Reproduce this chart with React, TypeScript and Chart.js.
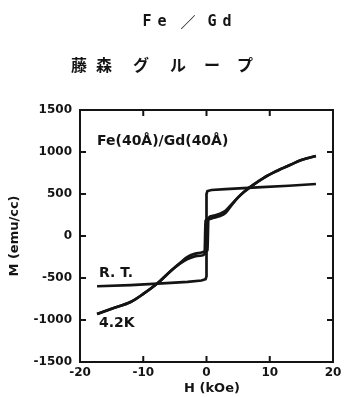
import { useEffect, useRef } from "react";
import { Chart, registerables } from "chart.js";

Chart.register(...registerables);

// Room temperature loop (square loop, near-zero coercivity)
const rtH = [-17.3, -12, -7, -3, -0.8, -0.15, 0, 0, 0.15, 0.8, 3, 8, 13, 17.3];
const rtM = [-598, -585, -565, -545, -530, -515, -480, 500, 535, 548, 558, 578, 598, 619];

// 4.2 K, ascending branch
const k42UpH = [-17.3, -15, -12, -10, -7.7, -6, -4.2, -3, -2, -1, -0.4, 0.15, 0.3, 1, 2, 3, 4, 5, 6, 7.5, 9, 11, 13.2, 15, 17.3];
const k42UpM = [-929, -865, -786, -690, -560, -440, -321, -250, -215, -200, -190, -170, 215, 240, 262, 300, 380, 460, 530, 615, 690, 770, 845, 905, 952];

// 4.2 K, descending branch
const k42DownH = [17.3, 15, 13.2, 11, 9, 7.5, 6, 5, 4, 3, 2, 1, 0.4, -0.15, -0.3, -1, -2, -3, -4.2, -6, -7.7, -10, -12, -15, -17.3];
const k42DownM = [952, 905, 845, 770, 690, 615, 530, 460, 370, 275, 235, 215, 200, 180, -215, -235, -245, -275, -330, -440, -560, -690, -786, -865, -929];

const xInnerTicks = [-10, 0, 10];
const yInnerTicks = [-1000, -500, 0, 500, 1000];

const INK = "#141414";
const TICK_FONT = "DejaVu Sans";

export default function App() {
  const ref = useRef<HTMLCanvasElement>(null);

  useEffect(() => {
    const canvas = ref.current;
    if (!canvas) return;
    const toPts = (h: number[], m: number[]) => h.map((x, i) => ({ x, y: m[i] }));

    const decor = {
      id: "decor",
      afterDraw(chart: any) {
        const { ctx, chartArea: a, scales } = chart;
        const xs = scales.x;
        const ys = scales.y;
        ctx.save();
        ctx.strokeStyle = INK;
        ctx.lineWidth = 2;
        ctx.strokeRect(a.left, a.top, a.right - a.left, a.bottom - a.top);
        const L = 6;
        ctx.beginPath();
        for (const v of xInnerTicks) {
          const px = xs.getPixelForValue(v);
          ctx.moveTo(px, a.bottom);
          ctx.lineTo(px, a.bottom - L);
          ctx.moveTo(px, a.top);
          ctx.lineTo(px, a.top + L);
        }
        for (const v of yInnerTicks) {
          const py = ys.getPixelForValue(v);
          ctx.moveTo(a.left, py);
          ctx.lineTo(a.left + L, py);
          ctx.moveTo(a.right, py);
          ctx.lineTo(a.right - L, py);
        }
        ctx.stroke();

        ctx.fillStyle = INK;
        ctx.textBaseline = "middle";
        ctx.textAlign = "center";

        // Page title "Fe／Gd" (spaced typewriter letters)
        const t1: [string, number][] = [["F", 147], ["e", 162], ["／", 188], ["G", 212], ["d", 227]];
        for (const [c, x] of t1) {
          ctx.font = c === "／" ? "bold 15px 'Noto Sans CJK JP'" : "bold 15px 'DejaVu Sans Mono'";
          ctx.fillText(c, x, 22);
        }
        // Group name
        const t2: [string, number][] = [["藤", 79], ["森", 104], ["グ", 141], ["ル", 178], ["ー", 212], ["プ", 245]];
        ctx.font = "bold 16px 'Noto Sans CJK JP'";
        for (const [c, x] of t2) ctx.fillText(c, x, 65);

        // In-plot annotations
        ctx.textAlign = "left";
        ctx.font = "bold 14px 'DejaVu Sans'";
        ctx.fillText("Fe(40Å)/Gd(40Å)", 97, 141);
        ctx.fillText("R. T.", 99, 273);
        ctx.fillText("4.2K", 99, 323);

        // Axis titles
        ctx.textAlign = "center";
        ctx.font = "bold 13px 'DejaVu Sans'";
        ctx.fillText("H (kOe)", 212, 389);
        ctx.save();
        ctx.translate(15, 236);
        ctx.rotate(-Math.PI / 2);
        ctx.fillText("M (emu/cc)", 0, 0);
        ctx.restore();

        ctx.restore();
      },
    };

    const lineStyle = {
      borderColor: INK,
      borderWidth: 2.7,
      pointRadius: 0,
      showLine: true,
      fill: false,
    };

    const chart = new Chart(canvas, {
      type: "scatter",
      data: {
        datasets: [
          { label: "R.T.", data: toPts(rtH, rtM), tension: 0, ...lineStyle },
          { label: "4.2K up", data: toPts(k42UpH, k42UpM), cubicInterpolationMode: "monotone", ...lineStyle },
          { label: "4.2K down", data: toPts(k42DownH, k42DownM), cubicInterpolationMode: "monotone", ...lineStyle },
        ] as any,
      },
      options: {
        animation: false,
        responsive: false,
        devicePixelRatio: 1,
        layout: { padding: { left: 0, right: 13, top: 110, bottom: 0 } },
        plugins: { legend: { display: false }, tooltip: { enabled: false } },
        scales: {
          x: {
            type: "linear",
            min: -20,
            max: 20,
            border: { display: false },
            grid: { display: false, drawTicks: false },
            ticks: {
              stepSize: 10,
              padding: 4,
              color: INK,
              font: { family: TICK_FONT, weight: "bold", size: 12 },
              callback: (v: any) => String(v),
            },
            afterFit: (s: any) => {
              s.height = 35;
            },
          },
          y: {
            type: "linear",
            min: -1500,
            max: 1500,
            border: { display: false },
            grid: { display: false, drawTicks: false },
            ticks: {
              stepSize: 500,
              padding: 8,
              color: INK,
              font: { family: TICK_FONT, weight: "bold", size: 12 },
              callback: (v: any) => String(v),
            },
            afterFit: (s: any) => {
              s.width = 80;
            },
          },
        },
      },
      plugins: [decor],
    });

    return () => chart.destroy();
  }, []);

  return (
    <canvas
      ref={ref}
      width={346}
      height={397}
      style={{ position: "fixed", left: 0, top: 0, width: 346, height: 397, display: "block", background: "#fff" }}
    />
  );
}
